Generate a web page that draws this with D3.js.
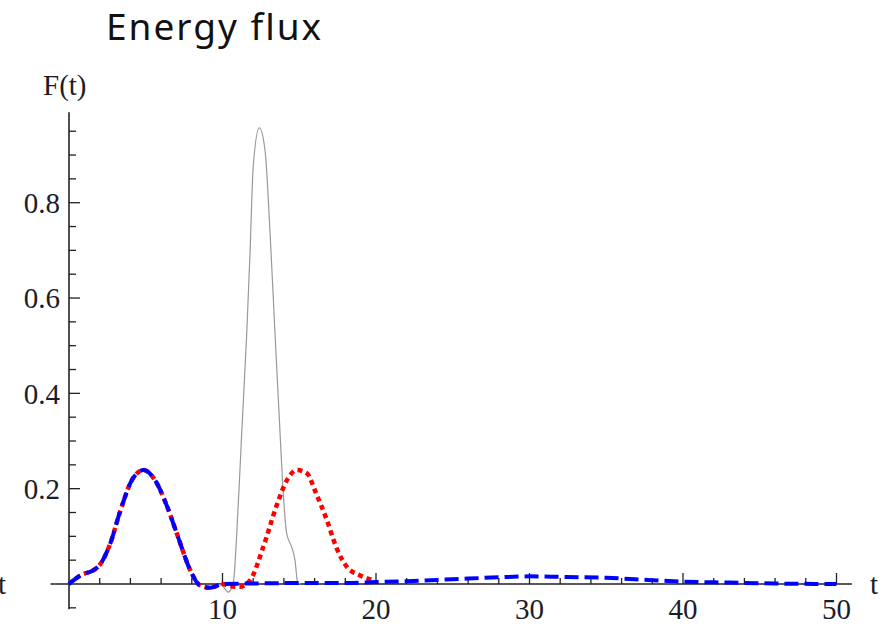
<!DOCTYPE html>
<html>
<head>
<meta charset="utf-8">
<script src="https://d3js.org/d3.v7.min.js"></script>
<style>
  body { margin: 0; background: #fff; }
  svg { display: block; }
  .tick-label { font-family: "Liberation Serif", "DejaVu Serif", serif; font-size: 29px; fill: #1c1c28; }
  .title { font-family: "Noto Sans", sans-serif; font-size: 37px; letter-spacing: 2px; fill: #111; }
</style>
</head>
<body>
<script>
// series
var blueT = [0, 0.8, 1.6, 2.0, 2.7, 3.3, 4.1, 4.85, 5.6, 6.4, 7.1, 7.9, 8.5, 9.2, 10, 12, 15, 18, 20, 22, 25, 28, 30, 32, 35, 38, 40, 43, 46, 50];
var blueF = [0, 0.019, 0.029, 0.04, 0.086, 0.149, 0.218, 0.239, 0.218, 0.162, 0.099, 0.029, -0.002, -0.008, 0, 0.001, 0.002, 0.002, 0.004, 0.006, 0.01, 0.014, 0.016, 0.015, 0.013, 0.008, 0.005, 0.003, 0.001, 0];

var redT = [0, 0.8, 1.6, 2.0, 2.7, 3.3, 4.1, 4.85, 5.6, 6.4, 7.1, 7.9, 8.5, 9.2, 10, 10.5, 11.1, 11.8, 12.66, 13.5, 14.2, 14.85, 15.5, 16.1, 16.8, 17.4, 18.1, 18.9, 19.8];
var redF = [0, 0.019, 0.029, 0.04, 0.086, 0.149, 0.218, 0.239, 0.218, 0.162, 0.099, 0.029, -0.002, -0.008, 0, -0.004, -0.006, 0.008, 0.078, 0.162, 0.218, 0.239, 0.232, 0.19, 0.134, 0.078, 0.036, 0.019, 0.008];

var grayT = [9.6, 10.0, 10.37, 10.7, 10.93, 11.25, 11.58, 11.8, 12.0, 12.4, 12.77, 13.1, 13.42, 13.75, 13.96, 14.18, 14.5, 14.72, 14.9, 15.1];
var grayF = [0, -0.004, -0.017, 0.001, 0.106, 0.316, 0.526, 0.70, 0.876, 0.957, 0.91, 0.736, 0.526, 0.316, 0.19, 0.106, 0.078, 0.05, 0.003, 0];

var xMajor = [10, 20, 30, 40, 50];
var yMajor = [0.2, 0.4, 0.6, 0.8];

var W = 895, H = 628;
var svg = d3.select("body").append("svg").attr("width", W).attr("height", H);

var x = d3.scaleLinear().domain([0, 50]).range([69, 836.5]);
var y = d3.scaleLinear().domain([0, 0.8]).range([584, 202.7]);

// title
svg.append("text").attr("class", "title").attr("x", 106).attr("y", 40).text("Energy flux");

// axes lines
var axisColor = "#222";
svg.append("line").attr("x1", x(-1.2)).attr("x2", x(51)).attr("y1", y(0)).attr("y2", y(0))
  .attr("stroke", axisColor).attr("stroke-width", 1.6);
svg.append("line").attr("x1", x(0)).attr("x2", x(0)).attr("y1", y(-0.053)).attr("y2", y(0.99))
  .attr("stroke", axisColor).attr("stroke-width", 1.6);

// x ticks
var xTicks = d3.range(2, 51, 2);
svg.selectAll("line.xt").data(xTicks).enter().append("line")
  .attr("x1", function(d) { return x(d); }).attr("x2", function(d) { return x(d); })
  .attr("y1", y(0))
  .attr("y2", function(d) { return y(0) - (d % 10 === 0 ? 11 : 6); })
  .attr("stroke", axisColor).attr("stroke-width", 1.3);
svg.selectAll("text.xl").data(xMajor).enter().append("text")
  .attr("class", "tick-label").attr("text-anchor", "middle")
  .attr("x", function(d) { return x(d); }).attr("y", 619)
  .text(function(d) { return d; });

// y ticks
var yTicks = d3.range(-1, 20).map(function(i) { return i * 0.05; }).filter(function(d) { return Math.abs(d) > 1e-9; });
svg.selectAll("line.yt").data(yTicks).enter().append("line")
  .attr("x1", x(0))
  .attr("x2", function(d) { return x(0) + (Math.abs(d * 10 - Math.round(d * 10)) < 1e-6 && Math.round(d * 10) % 2 === 0 ? 11 : 7); })
  .attr("y1", function(d) { return y(d); }).attr("y2", function(d) { return y(d); })
  .attr("stroke", axisColor).attr("stroke-width", 1.3);
svg.selectAll("text.yl").data(yMajor).enter().append("text")
  .attr("class", "tick-label").attr("text-anchor", "end")
  .attr("x", 60).attr("y", function(d) { return y(d); }).attr("dy", "0.35em")
  .text(function(d) { return d3.format(".1f")(d); });

// axis labels
svg.append("text").attr("class", "tick-label").attr("x", 43).attr("y", 95).text("F(t)");
svg.append("text").attr("class", "tick-label").attr("text-anchor", "middle").attr("x", 874).attr("y", y(0)).attr("dy", "0.35em").text("t");
svg.append("text").attr("class", "tick-label").attr("x", -2).attr("y", y(0)).attr("dy", "0.35em").text("t");

// curves
function series(ts, fs) { return ts.map(function(t, i) { return [t, fs[i]]; }); }
var line = d3.line().x(function(d) { return x(d[0]); }).y(function(d) { return y(d[1]); }).curve(d3.curveMonotoneX);

svg.append("path").attr("d", line(series(grayT, grayF)))
  .attr("fill", "none").attr("stroke", "#9a9a9a").attr("stroke-width", 1.2);
svg.append("path").attr("d", line(series(redT, redF)))
  .attr("fill", "none").attr("stroke", "#ff0000").attr("stroke-width", 4.5).attr("stroke-dasharray", "5,4");
svg.append("path").attr("d", line(series(blueT, blueF)))
  .attr("fill", "none").attr("stroke", "#0000ff").attr("stroke-width", 4).attr("stroke-dasharray", "14,6");
</script>
</body>
</html>
